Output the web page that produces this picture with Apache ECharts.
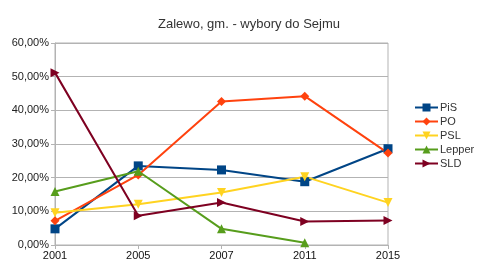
<!DOCTYPE html>
<html>
<head>
<meta charset="utf-8">
<script src="https://cdn.jsdelivr.net/npm/echarts@6/dist/echarts.min.js"></script>
<style>
html, body { margin: 0; padding: 0; background: #fff; }
#chart { width: 480px; height: 269px; }
</style>
</head>
<body>
<div id="chart"></div>
<script>
var years = ['2001', '2005', '2007', '2011', '2015'];
var pis = [4.8, 23.5, 22.3, 18.8, 28.6];
var po = [7.2, 20.8, 42.6, 44.2, 27.3];
var psl = [9.6, 12.1, 15.6, 20.3, 12.6];
var lepper = [15.9, 21.9, 4.8, 0.7, null];
var sld = [51.2, 8.7, 12.6, 7.0, 7.3];

var names = ['PiS', 'PO', 'PSL', 'Lepper', 'SLD'];
var colors = ['#004586', '#ff420e', '#ffd320', '#579d1c', '#7e0021'];
var symbols = ['rect', 'diamond', 'path://M0,0 L10,0 L5,9 Z', 'triangle', 'path://M0,0 L9,5 L0,10 Z'];
var values = [pis, po, psl, lepper, sld];

function pct(v) {
    return v.toFixed(2).replace('.', ',') + '%';
}

var series = [];
for (var i = 0; i < names.length; i++) {
    series.push({
        name: names[i],
        type: 'line',
        data: values[i],
        symbol: symbols[i],
        symbolSize: 9,
        showAllSymbol: true,
        lineStyle: { width: 2, color: colors[i] },
        itemStyle: { color: colors[i] },
        connectNulls: false
    });
}

var myChart = echarts.init(document.getElementById('chart'));
myChart.setOption({
    animation: false,
    color: colors,
    title: {
        text: 'Zalewo, gm. - wybory do Sejmu',
        left: 244,
        textAlign: 'center',
        top: 13,
        textStyle: { fontFamily: 'Liberation Sans', fontSize: 13, fontWeight: 'normal', color: '#333' }
    },
    legend: {
        orient: 'vertical',
        left: 409,
        top: 97,
        itemGap: 3,
        itemWidth: 23,
        itemHeight: 10,
        textStyle: { fontFamily: 'Liberation Sans', fontSize: 11, color: '#333', padding: [0, 0, 0, -3] },
        data: names
    },
    grid: {
        left: 55,
        right: 92,
        top: 43,
        bottom: 24,
        show: true,
        borderColor: '#b3b3b3',
        borderWidth: 1
    },
    xAxis: {
        type: 'category',
        data: years,
        boundaryGap: false,
        axisLine: { lineStyle: { color: '#b3b3b3' } },
        axisTick: { show: true, length: 4, lineStyle: { color: '#b3b3b3' } },
        axisLabel: { fontFamily: 'Liberation Sans', fontSize: 11, color: '#111', margin: 5 },
        splitLine: { show: false }
    },
    yAxis: {
        type: 'value',
        min: 0,
        max: 60,
        interval: 10,
        axisLine: { show: true, lineStyle: { color: '#b3b3b3' } },
        axisTick: { show: true, length: 4, lineStyle: { color: '#b3b3b3' } },
        axisLabel: { fontFamily: 'Liberation Sans', fontSize: 11, color: '#222', margin: 6, formatter: pct },
        splitLine: { lineStyle: { color: '#b3b3b3' } }
    },
    series: series
});
</script>
</body>
</html>
